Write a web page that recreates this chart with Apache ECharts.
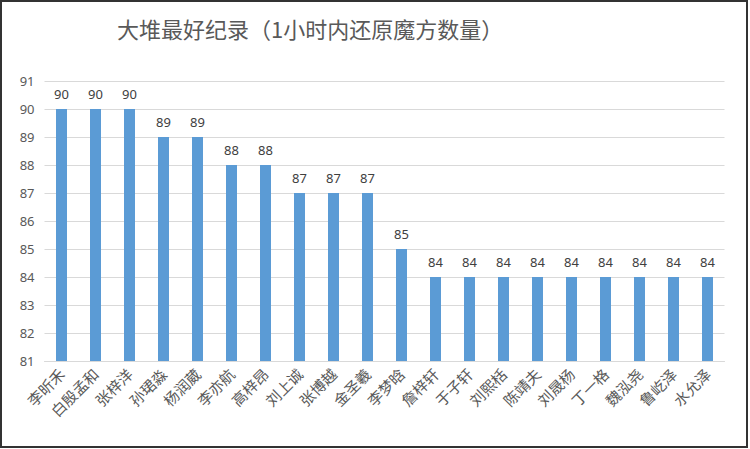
<!DOCTYPE html>
<html>
<head>
<meta charset="utf-8">
<script src="https://cdn.jsdelivr.net/npm/echarts@6/dist/echarts.min.js"></script>
<style>
  html, body { margin: 0; padding: 0; background: #fff; }
  #container { width: 750px; height: 449px; }
</style>
</head>
<body>
<div id="container"></div>
<script>
var names = ['李昕禾', '白殷孟和', '张梓洋', '孙珺淼', '杨润葳', '李亦航', '高梓昂', '刘上诚', '张博越', '金圣羲',
  '李梦晗', '詹梓轩', '于子轩', '刘熙栝', '陈靖夫', '刘晟杨', '丁一格', '魏泓尧', '鲁屹泽', '水允泽'];
var counts = [90, 90, 90, 89, 89, 88, 88, 87, 87, 87, 85, 84, 84, 84, 84, 84, 84, 84, 84, 84];
var yTicks = [81, 91, 1]; // min, max, interval

var option = {
  animation: false,
  backgroundColor: '#fff',
  title: {
    text: '大堆最好纪录（1小时内还原魔方数量）',
    left: 112,
    top: 12,
    textStyle: {
      color: '#595959',
      fontSize: 22,
      fontWeight: 'normal',
      fontFamily: 'Noto Sans CJK SC'
    }
  },
  graphic: [{
    type: 'rect',
    shape: { x: 1, y: 1, width: 746, height: 446 },
    style: { fill: 'none', stroke: '#333', lineWidth: 2 }
  }],
  grid: {
    left: 44.5,
    right: 25.5,
    top: 81,
    bottom: 88
  },
  xAxis: {
    type: 'category',
    data: names,
    axisLine: { lineStyle: { color: '#d9d9d9', width: 1 } },
    axisTick: { show: false },
    axisLabel: {
      interval: 0,
      rotate: 45,
      margin: 10,
      color: '#595959',
      fontSize: 15,
      fontFamily: 'Noto Sans CJK SC'
    }
  },
  yAxis: {
    type: 'value',
    min: yTicks[0],
    max: yTicks[1],
    interval: yTicks[2],
    axisLine: { show: false },
    axisTick: { show: false },
    splitLine: { lineStyle: { color: '#d9d9d9', width: 1 } },
    axisLabel: {
      color: '#595959',
      fontSize: 13,
      margin: 10,
      fontFamily: 'Noto Sans'
    }
  },
  series: [{
    type: 'bar',
    data: counts,
    barWidth: 11,
    itemStyle: { color: '#5b9bd5' },
    label: {
      show: true,
      position: 'top',
      distance: 9,
      color: '#404040',
      fontSize: 13,
      fontFamily: 'Noto Sans'
    }
  }]
};

var myChart = echarts.init(document.getElementById('container'), null, { renderer: 'svg' });
myChart.setOption(option);
</script>
</body>
</html>
